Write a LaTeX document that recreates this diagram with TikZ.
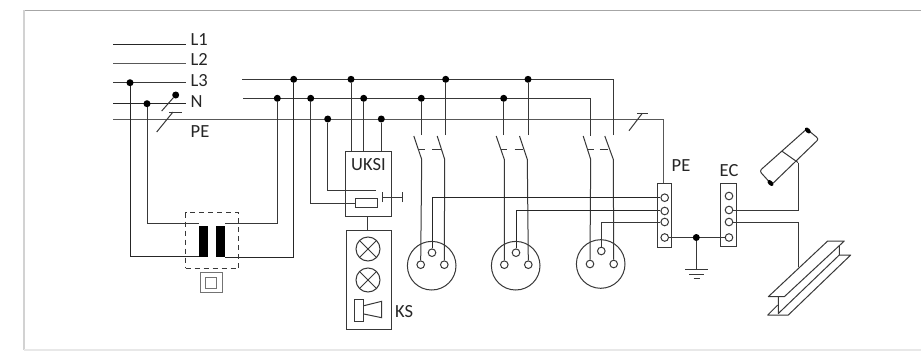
\documentclass[tikz,border=0pt]{standalone}
\usepackage{fontspec}
\setmainfont{Carlito}
\usetikzlibrary{backgrounds}
\definecolor{wirec}{HTML}{383838}
\definecolor{pec}{HTML}{585858}
\tikzset{
  wire/.style={draw=wirec,line width=1pt},
  pewire/.style={draw=pec,line width=1pt},
  hwire/.style={draw=black!85,line width=1pt},
  jdot/.style={circle,fill=black,inner sep=0pt,minimum size=7pt},
  term/.style={circle,draw=wirec,line width=1pt,fill=white,inner sep=0pt,minimum size=7.6pt},
  lbl/.style={font=\fontsize{18.5}{19}\selectfont,text=black!85,inner sep=0pt,anchor=base west},
  boxs/.style={draw=wirec,line width=1pt,fill=none},
  socket/.style={circle,draw=wirec,line width=1pt,inner sep=0pt,minimum size=48.6pt},
  lamp/.style={circle,draw=wirec,line width=1pt,inner sep=0pt,minimum size=24pt},
  bar/.style={fill=black,inner sep=0pt,minimum width=9pt,minimum height=31pt},
  thin/.style={draw=wirec,line width=0.9pt}
}
\begin{document}
\begin{tikzpicture}[x=1pt,y=-1pt]
\useasboundingbox (0,0) rectangle (921,351);
% labels
\node[lbl] (tL1) at (190.5,45) {L1};
\node[lbl] (tL2) at (190.5,65) {L2};
\node[lbl] (tL3) at (190.5,86) {L3};
\node[lbl] (tN) at (190.5,107) {N};
\node[lbl] (tPE) at (190.5,137.5) {PE};
\node[lbl] (tPEb) at (671.5,171) {PE};
\node[lbl] (tEC) at (719.5,176.5) {EC};
\node[lbl] (tUKSI) at (351,170.5) {UKSI};
\node[lbl] (tKS) at (395,317) {KS};
% line ends
\coordinate (L1a) at (113,44); \coordinate (L1b) at (186,44);
\coordinate (L2a) at (113,63.7); \coordinate (L2b) at (186,63.7);
\coordinate (L3a) at (113,82.7); \coordinate (L3b) at (186,82.7);
\coordinate (Na) at (113,103.7); \coordinate (Nb) at (186,103.7);
\coordinate (PEa) at (113,119); \coordinate (PEb) at (663.3,119);
\coordinate (BLa) at (242,79.3); \coordinate (BLb) at (613.3,79.3);
\coordinate (BNa) at (243,98.3); \coordinate (BNb) at (590.7,98.3);
% junctions
\node[jdot] (d1) at (130,82.7) {};
\node[jdot] (d2) at (147,103.7) {};
\node[jdot] (d3) at (175.7,95) {};
\node[jdot] (d4) at (293.7,79.3) {};
\node[jdot] (d5) at (351,79.3) {};
\node[jdot] (d6) at (445.7,79.3) {};
\node[jdot] (d7) at (528,79.3) {};
\node[jdot] (d8) at (277.3,98.3) {};
\node[jdot] (d9) at (310.7,98.3) {};
\node[jdot] (d10) at (363.7,98.3) {};
\node[jdot] (d11) at (421.3,98.3) {};
\node[jdot] (d12) at (503.7,98.3) {};
\node[jdot] (d13) at (327.7,119) {};
\node[jdot] (d14) at (381.3,119) {};
\node[jdot] (d15) at (696.3,237.5) {};
% transformer
\node[bar] (b1) at (203.8,241) {};
\node[bar] (b2) at (220.2,241) {};
\node[draw=wirec,dashed,dash pattern=on 5pt off 4pt,line width=1pt,inner sep=0pt,minimum width=53.3pt,minimum height=55.6pt] (tbox) at (212.3,240.5) {};
\node[draw=gray!90!black,line width=1pt,inner sep=0pt,minimum width=22pt,minimum height=19.7pt] (so) at (211,282.2) {};
\node[draw=gray!90!black,line width=1pt,inner sep=0pt,minimum width=11.3pt,minimum height=10.7pt] (si) at (211.3,282.7) {};
% UKSI / KS
\node[boxs,inner sep=0pt,minimum width=46.3pt,minimum height=65pt] (uksi) at (368.8,183.5) {};
\node[boxs,inner sep=0pt,minimum width=45.3pt,minimum height=98.6pt] (ks) at (368.7,280) {};
\node[draw=wirec,line width=1pt,inner sep=0pt,minimum width=21.7pt,minimum height=8.7pt] (fuse) at (366.2,203.3) {};
\coordinate (tb1) at (382.3,197); \coordinate (tb2) at (402.7,197);
\coordinate (u1) at (351,151); \coordinate (u2) at (363.7,151); \coordinate (u3) at (381.3,151);
\coordinate (c328) at (376,190);
\foreach \n/\y in {la/249,lb/280}{
  \node[lamp] (\n) at (368,\y) {};
  \draw[thin] (\n.north east) -- (\n.south west) (\n.north west) -- (\n.south east);
}
\node[draw=wirec,line width=1pt,inner sep=0pt,minimum width=9.3pt,minimum height=22.4pt] (hr) at (358.7,310.5) {};
\draw[wire] (hr.east |- 0,305.7) -- (381.7,301.3) -- (381.7,317.7) -- (hr.east |- 0,314);
% sockets
\node[socket] (s1) at (431.7,265.7) {};
\node[socket] (s2) at (515.7,265.7) {};
\node[socket] (s3) at (600.7,264) {};
\node[term] (t1a) at (420.7,264.7) {};
\node[term] (t1b) at (444.3,264.7) {};
\node[term] (t1c) at (432,252.7) {};
\node[term] (t2a) at (504.3,264.7) {};
\node[term] (t2b) at (528.3,264.7) {};
\node[term] (t2c) at (516,252.7) {};
\node[term] (t3a) at (590,264) {};
\node[term] (t3b) at (613.7,264) {};
\node[term] (t3c) at (601.3,251) {};
% bars
\node[boxs,inner sep=0pt,minimum width=13.6pt,minimum height=64pt] (pebar) at (664.5,215.3) {};
\node[boxs,inner sep=0pt,minimum width=16pt,minimum height=63.4pt] (ecbar) at (728.7,215) {};
\node[term] (p1) at (664.7,197.7) {};
\node[term] (p2) at (664.7,211) {};
\node[term] (p3) at (664.7,222) {};
\node[term] (p4) at (664.7,237.5) {};
\node[term] (e1) at (729,196) {};
\node[term] (e2) at (729,210) {};
\node[term] (e3) at (729,222) {};
\node[term] (e4) at (729,237.5) {};
% ground and targets
\coordinate (gnd) at (696.3,269.3);
\coordinate (pipetap) at (798,162.5);
\coordinate (beamtap) at (798.3,266.7);
\begin{scope}[on background layer]
\fill[white] (0,0) rectangle (921,351);
\draw[gray!70,line width=1pt] (24,10) -- (921,10);
\draw[gray!35,line width=1.4pt] (24,10) -- (24,350);
\draw[gray!18,line width=1.2pt] (24,350) -- (921,350);
% supply lines
\draw[hwire] (L1a) -- (L1b);
\draw[pewire] (L2a) -- (L2b);
\draw[wire] (L3a) -- (L3b);
\draw[hwire] (Na) -- (Nb);
\draw[pewire] (PEa) -- (PEb) -- (pebar.north -| PEb);
\draw[wire] (BLa) -- (BLb) -- ++(0,56);
\draw[wire] (BNa) -- (BNb) -- ++(0,37.7);
% slashes
\draw[wire] (161.7,111) -- (d3);
\draw[wire] (156.7,132) -- (173,112);
\draw[wire] (169.3,112) -- (181.7,112);
\draw[wire] (629,130.7) -- (642.3,113.3);
\draw[wire] (637.3,113.3) -- (648.3,113.3);
% transformer wires
\draw[wire] (d2) |- ([yshift=1.7pt]b1.north west);
\draw[wire] (d8) |- ([yshift=1.7pt]b2.north east);
\draw[hwire] (d1) |- ([yshift=0.7pt]b1.south west);
\draw[hwire] (d4) |- ([yshift=-1pt]b2.south east);
% UKSI wires
\draw[wire] (d5) -- (u1);
\draw[wire] (d10) -- (u2);
\draw[wire] (d14) -- (u3);
\draw[wire] (d9) |- (fuse.west);
\draw[wire] (d13) |- (c328);
\draw[wire] (tb1) -- (tb2);
\draw[wire] ([yshift=-5pt]tb1) -- ([yshift=5pt]tb1);
\draw[wire] ([yshift=-5pt]tb2) -- ([yshift=5pt]tb2);
\draw[wire] (uksi.south -| 367.7,0) -- (ks.north -| 367.7,0);
% switches
\foreach \dd/\tt/\xa/\xb/\k in {d11/t1a/421.3/421.7/0,d12/t2a/503.7/504.3/0,BNb/t3a/590.7/590.7/0}{
  \draw[wire] (\xa,135) -- (\dd);
  \draw[wire] (\xa-7.5,136) -- (\xb,159.4) -- (\tt.north);
  \draw[wire] (\xa-2.6,149.3) -- (\xa+3.4,149.3);
}
\foreach \dd/\tt/\xa/\xb/\k in {d6/t1b/445.7/444.7/0,d7/t2b/528/527.3/0,BLb/t3b/613.3/613.3/0}{
  \draw[wire] (\xa,135) -- (\dd);
  \draw[wire] (\xa-8.5,136) -- (\xb,159.4) -- (\tt.north);
  \draw[wire] (\xa-13.4,149.3) -- (\xa-5,149.3);
}
% protective conductors
\draw[hwire] (t1c.north) |- (p1.west);
\draw[hwire] (t2c.north) |- ([yshift=1pt]p2.west);
\draw[wire] (t3c.north) |- (p3.west);
\draw[wire] (p4) -- (e4);
\draw[wire] (d15) -- (gnd);
\draw[wire] (685,269.3) -- (707.7,269.3);
\draw[wire] (689.3,274) -- (704,274);
\draw[wire] (693.7,278.7) -- (700,278.7);
\draw[wire] (e2) -| (pipetap);
\draw[wire] (e3) -| (beamtap);
\end{scope}
% pipe
\draw[wire,rounded corners=2.5pt] (806.7,129) -- (818.8,139) -- (771.7,184.5) -- (759.5,171) -- cycle;
\draw[wire] (781.7,151) -- (pipetap);
\fill[black,rotate around={-45:(807.8,130.5)}] (807.8,130.5) ellipse (3.6pt and 2.2pt);
\fill[black,rotate around={-45:(770.5,183)}] (770.5,183) ellipse (3.6pt and 2.2pt);
% beam
\draw[wire,line join=round] (768.3,296.7) -- (827.7,241) -- (844.3,241) -- (784.3,296.7) -- cycle;
\draw[wire,line join=round] (778.3,296.7) -- (778.3,313.5) -- (839.3,255) -- (839.3,246);
\draw[wire,line join=round] (839.3,255) -- (850.7,255) -- (788.3,315) -- (767.7,315) -- (777.7,305);
\end{tikzpicture}
\end{document}
